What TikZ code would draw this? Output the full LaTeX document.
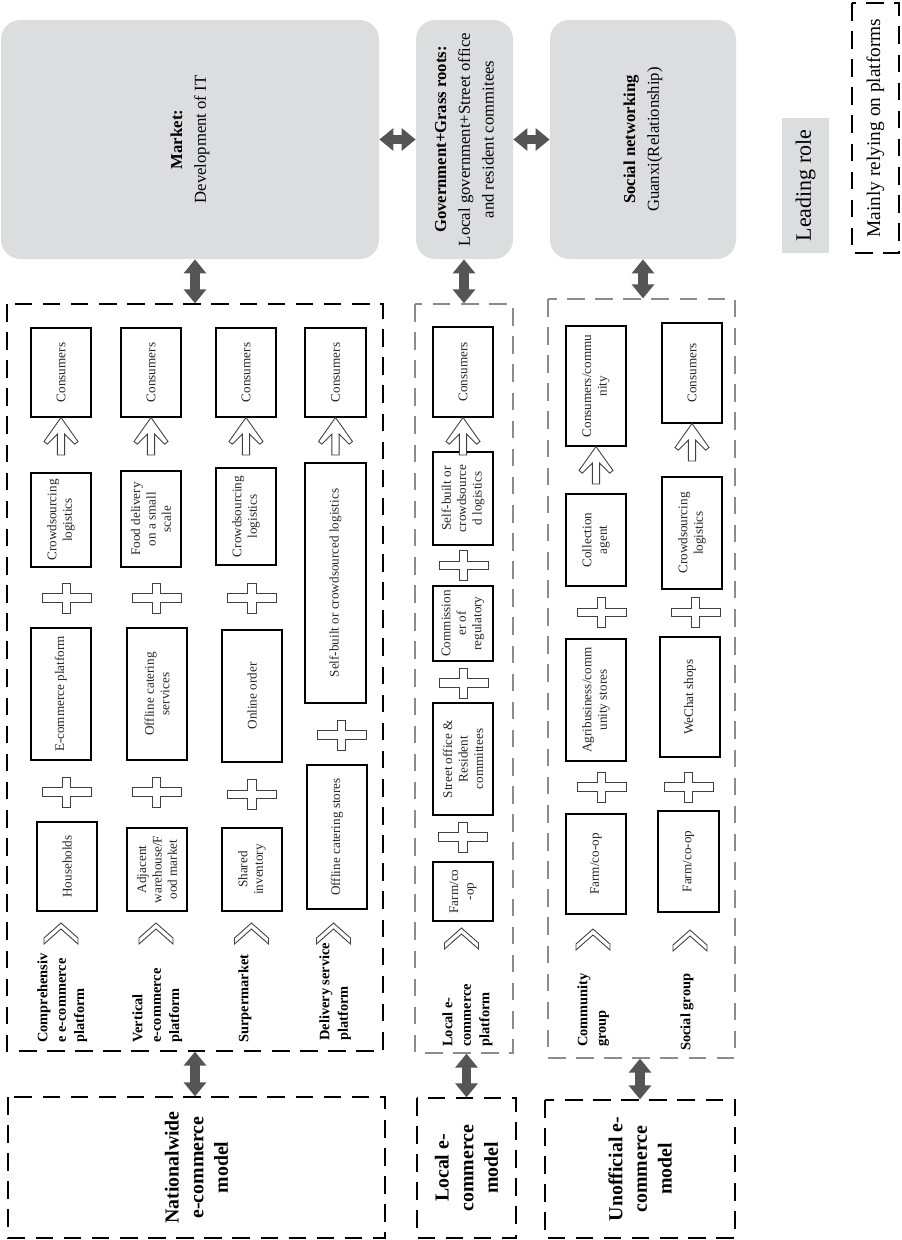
\documentclass[tikz,border=0pt]{standalone}
\usepackage{fontspec}
\setmainfont{Liberation Serif}
\usepackage{xcolor}
\usepackage{tikz}
\usetikzlibrary{arrows.meta,calc}

\definecolor{boxgray}{RGB}{220,221,222}
\definecolor{arrowgray}{RGB}{85,85,85}
\definecolor{dashgray}{RGB}{140,140,140}

\tikzset{
  sz/.style 2 args={rotate=90, minimum width=#2*0.02cm, minimum height=#1*0.02cm},
  topbox/.style={fill=boxgray, rounded corners=11pt, inner sep=0pt, align=center,
    font=\fontsize{9.5}{13.5}\selectfont},
  legendbox/.style={inner sep=0pt, align=center, font=\fontsize{11}{13}\selectfont},
  dashbox/.style={draw, line width=0.7pt, dash pattern=on 10pt off 6pt},
  itembox/.style={draw, line width=0.6pt, fill=white, inner sep=1pt, align=center,
    text=black!85, font=\fontsize{7.5}{8.8}\selectfont},
  platlabel/.style={rotate=90, anchor=north west, inner sep=0pt, align=left,
    font=\bfseries\fontsize{8.2}{10.5}\selectfont},
  modelbox/.style={dashbox, align=center, font=\bfseries\fontsize{11.3}{14}\selectfont},
  fatarrow/.style={arrowgray, line width=5.4pt,
    {Triangle[width=12.5pt,length=8pt]}-{Triangle[width=12.5pt,length=8pt]}},
  symbol/.style={draw=black!75, line width=0.5pt, fill=white},
  plussign/.pic={
    \draw[symbol] (-24.5,-4.3) -- (-4.3,-4.3) -- (-4.3,-15) -- (4.3,-15) -- (4.3,-4.3)
      -- (24.5,-4.3) -- (24.5,4.3) -- (4.3,4.3) -- (4.3,15) -- (-4.3,15) -- (-4.3,4.3)
      -- (-24.5,4.3) -- cycle;},
  chevup/.pic={
    \draw[symbol] (0,0) -- (17,15) -- (17,21) -- (0,6) -- (-17,21) -- (-17,15) -- cycle;},
  hollowup/.pic={
    \draw[symbol] (0,0) -- (17,24) -- (13.7,26.6) -- (3.6,16.6) -- (3.6,37.5) -- (-3.6,37.5)
      -- (-3.6,16.6) -- (-13.7,26.6) -- (-17,24) -- cycle;}
}

\begin{document}
\begin{tikzpicture}[x=0.02cm, y=-0.02cm]
  \useasboundingbox (0,0) rectangle (902,1240);

  % Leading roles
  \node[topbox, sz={378}{239}] (market) at (190,139.5) {\textbf{Market:}\\Development of IT};
  \node[topbox, sz={97}{239}] (gov) at (464.5,139.5)
    {\textbf{Government+Grass roots:}\\Local government+Street office\\and resident commitees};
  \node[topbox, sz={186}{239}] (social) at (643,139.5) {\textbf{Social networking}\\Guanxi(Relationship)};

  % Legend
  \node[legendbox, fill=boxgray, sz={47}{135}, font=\fontsize{12.5}{14}\selectfont] (lead) at (805.5,185.5) {Leading role};
  \node[legendbox, dashbox, sz={47}{250}] (relying) at (875.5,128) {Mainly relying on platforms};

  % Platform frames
  \node[dashbox, sz={376}{747}] (nat) at (195,677.5) {};
  \node[dashbox, draw=dashgray, sz={98}{749}] (loc) at (464,678.5) {};
  \node[dashbox, draw=dashgray, sz={187}{759}] (unof) at (641.5,678.5) {};

  % Models
  \node[modelbox, sz={377}{141}] (natmodel) at (196.5,1167.5) {Nationalwide\\e-commerce\\model};
  \node[modelbox, sz={99}{140}] (locmodel) at (466.5,1168) {Local e-\\commerce\\model};
  \node[modelbox, sz={190}{138}] (unofmodel) at (640,1169) {Unofficial e-\\commerce\\model};

  % Links between the levels
  \draw[fatarrow] (market.south) -- (gov.north);
  \draw[fatarrow] (gov.south) -- (social.north);
  \draw[fatarrow] (nat.east |- market.west) -- (nat.east);
  \draw[fatarrow] (loc.east |- gov.west) -- (loc.east);
  \draw[fatarrow] (social.west) -- (social.west |- unof.east);
  \draw[fatarrow] (nat.west) -- (nat.west |- natmodel.east);
  \draw[fatarrow] (locmodel.east |- loc.west) -- (locmodel.east);
  \draw[fatarrow] (unofmodel.east |- unof.west) -- (unofmodel.east);

  % Comprehensive e-commerce platform
  \node[itembox, sz={60}{89}] (c1cons) at (61,372.5) {Consumers};
  \node[itembox, sz={60}{94}] (c1log) at (61,520) {Crowdsourcing\\logistics};
  \node[itembox, sz={60}{132}] (c1plat) at (61,694) {E-commerce platform};
  \node[itembox, sz={60}{89}] (c1house) at (67,866.5) {Households};
  \pic at (c1cons.west) {hollowup};
  \pic at (66.5,598) {plussign};
  \pic at (66.5,792) {plussign};
  \pic at (61,923) {chevup};
  \node[platlabel] (c1label) at (37,1043) {Comprehensiv\\e e-commerce\\platform};

  % Vertical e-commerce platform
  \node[itembox, sz={60}{89}] (c2cons) at (151,372.5) {Consumers};
  \node[itembox, sz={60}{96}] (c2food) at (151,519) {Food delivery\\on a small\\scale};
  \node[itembox, sz={60}{132}] (c2serv) at (157,694) {Offline catering\\services};
  \node[itembox, sz={60}{83}] (c2ware) at (157,869.5) {Adjacent\\warehouse/F\\ood market};
  \pic at (c2cons.west) {hollowup};
  \pic at (156.5,598) {plussign};
  \pic at (156.5,792) {plussign};
  \pic at (156,923) {chevup};
  \node[platlabel] (c2label) at (132,1043) {Vertical\\e-commerce\\platform};

  % Surpermarket
  \node[itembox, sz={60}{89}] (c3cons) at (246,372.5) {Consumers};
  \node[itembox, sz={60}{97}] (c3log) at (246,516.5) {Crowdsourcing\\logistics};
  \node[itembox, sz={60}{132}] (c3order) at (252,696) {Online order};
  \node[itembox, sz={60}{83}] (c3inv) at (252,869.5) {Shared\\inventory};
  \pic at (c3cons.west) {hollowup};
  \pic at (252,598) {plussign};
  \pic at (252,794.5) {plussign};
  \pic at (251.5,923) {chevup};
  \node[platlabel] (c3label) at (238,1043) {Surpermarket};

  % Delivery service platform
  \node[itembox, sz={61}{89}] (c4cons) at (335.5,372.5) {Consumers};
  \node[itembox, sz={61}{240}] (c4log) at (335.5,583) {Self-built or crowdsourced logistics};
  \node[itembox, sz={60}{144}] (c4stores) at (337,837) {Offline catering stores};
  \pic at (c4cons.west) {hollowup};
  \pic at (341.5,735) {plussign};
  \pic at (333.5,923) {chevup};
  \node[platlabel] (c4label) at (319,1041) {Delivery service\\platform};

  % Local e-commerce platform
  \node[itembox, sz={60}{90}] (lcons) at (463,372) {Consumers};
  \node[itembox, sz={60}{93}] (llog) at (463,498.5) {Self-built or\\crowdsource\\d logistics};
  \node[itembox, sz={60}{75}] (lcomm) at (463,623.5) {Commission\\er of\\regulatory};
  \node[itembox, sz={60}{112}] (lstreet) at (463,759) {Street office \&\\Resident\\committees};
  \node[itembox, sz={60}{59}] (lfarm) at (463,891.5) {Farm/co\\-op};
  \pic at (lcons.west) {hollowup};
  \pic at (463.5,565.5) {plussign};
  \pic at (463.5,683) {plussign};
  \pic at (463,837) {plussign};
  \pic at (461.5,928) {chevup};
  \node[platlabel] (llabel) at (442,1047) {Local e-\\commerce\\platform};

  % Community group
  \node[itembox, sz={60}{120}] (acons) at (596,386) {Consumers/commu\\nity};
  \node[itembox, sz={60}{92}] (aagent) at (596,540) {Collection\\agent};
  \node[itembox, sz={60}{122}] (aagri) at (596,700) {Agribusiness/comm\\unity stores};
  \node[itembox, sz={60}{100}] (afarm) at (596,864) {Farm/co-op};
  \pic at (acons.west) {hollowup};
  \pic at (601.5,612.5) {plussign};
  \pic at (601.5,787) {plussign};
  \pic at (593,929) {chevup};
  \node[platlabel] (alabel) at (577,1047) {Community\\group};

  % Social group
  \node[itembox, sz={60}{100}] (bcons) at (692,373) {Consumers};
  \node[itembox, sz={60}{112}] (blog) at (692,533) {Crowdsourcing\\logistics};
  \node[itembox, sz={60}{120}] (bshop) at (690,697) {WeChat shops};
  \node[itembox, sz={61}{101}] (bfarm) at (688.5,861.5) {Farm/co-op};
  \pic at (bcons.west) {hollowup};
  \pic at (695.5,612.5) {plussign};
  \pic at (688.5,787) {plussign};
  \pic at (690,930) {chevup};
  \node[platlabel] (blabel) at (680,1051) {Social group};
\end{tikzpicture}
\end{document}
